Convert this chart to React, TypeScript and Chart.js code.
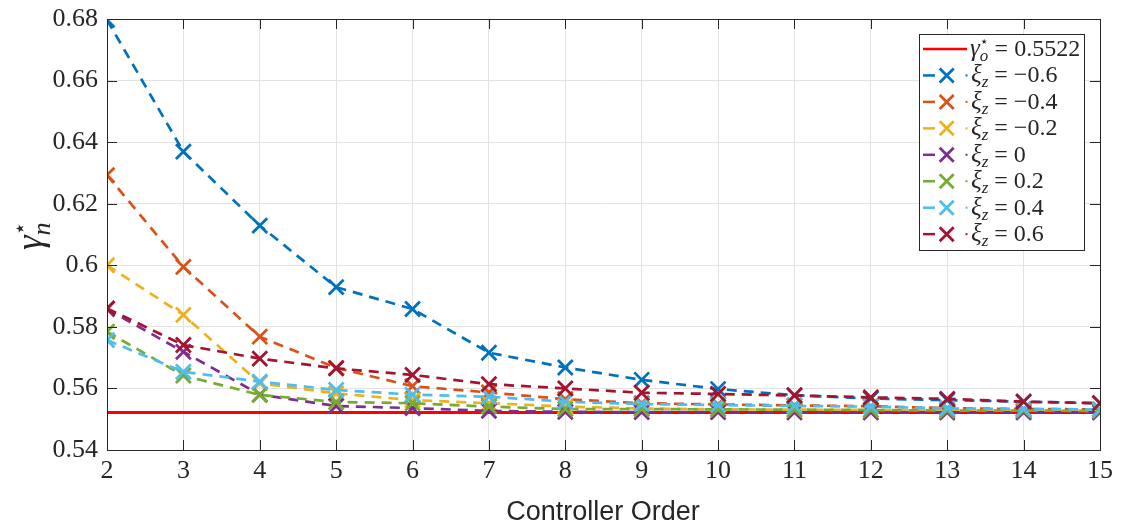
import { useEffect, useRef } from 'react';
import { Chart, registerables } from 'chart.js';

Chart.register(...registerables);

// Controller orders on the x axis
const orders = [2, 3, 4, 5, 6, 7, 8, 9, 10, 11, 12, 13, 14, 15];

// Optimal full-order value (reference line)
const gammaOptimal = 0.5522;

// gamma_n* for each zero location xi_z
const xiNeg06 = [0.6797, 0.6369, 0.6129, 0.5929, 0.5858, 0.5716, 0.5668, 0.5628, 0.5598, 0.5578, 0.5567, 0.5562, 0.5557, 0.5552];
const xiNeg04 = [0.6293, 0.5995, 0.5768, 0.5667, 0.5607, 0.5587, 0.5565, 0.5552, 0.5548, 0.5545, 0.5542, 0.5536, 0.5533, 0.5532];
const xiNeg02 = [0.6000, 0.5839, 0.5617, 0.5584, 0.5562, 0.5552, 0.5541, 0.5535, 0.5532, 0.5531, 0.5530, 0.5529, 0.5528, 0.5527];
const xiZero = [0.5858, 0.5719, 0.5580, 0.5543, 0.5536, 0.5527, 0.5524, 0.5523, 0.5523, 0.5522, 0.5522, 0.5522, 0.5522, 0.5522];
const xiPos02 = [0.5784, 0.5642, 0.5579, 0.5556, 0.5552, 0.5541, 0.5533, 0.5533, 0.5532, 0.5531, 0.5530, 0.5528, 0.5528, 0.5527];
const xiPos04 = [0.5757, 0.5654, 0.5622, 0.5595, 0.5580, 0.5573, 0.5557, 0.5549, 0.5546, 0.5543, 0.5541, 0.5535, 0.5533, 0.5532];
const xiPos06 = [0.5860, 0.5741, 0.5697, 0.5665, 0.5644, 0.5614, 0.5600, 0.5586, 0.5582, 0.5577, 0.5571, 0.5566, 0.5557, 0.5552];

const seriesValues = [xiNeg06, xiNeg04, xiNeg02, xiZero, xiPos02, xiPos04, xiPos06];
const seriesLabels = ['−0.6', '−0.4', '−0.2', '0', '0.2', '0.4', '0.6'];
const seriesColors = ['#0072BD', '#D95319', '#EDB120', '#7E2F8E', '#77AC30', '#4DBEEE', '#A2142F'];

const yTicks = [0.54, 0.56, 0.58, 0.6, 0.62, 0.64, 0.66, 0.68];

const AXIS_COLOR = '#262626';
const SERIF = '"Liberation Serif", "DejaVu Serif", serif';
const STAR_FONT = '"DejaVu Sans", sans-serif';

type Piece = { t: string; font: string; dy?: number; overlap?: boolean };

// Draws a run of text pieces (used for math-style labels with sub/superscripts)
function drawPieces(ctx: CanvasRenderingContext2D, x: number, y: number, pieces: Piece[]) {
  let cx = x;
  let lastStart = x;
  let lastWidth = 0;
  for (const p of pieces) {
    ctx.font = p.font;
    const w = ctx.measureText(p.t).width;
    if (p.overlap) {
      ctx.fillText(p.t, lastStart, y + (p.dy || 0));
      lastWidth = Math.max(lastWidth, w);
      cx = lastStart + lastWidth;
    } else {
      ctx.fillText(p.t, cx, y + (p.dy || 0));
      lastStart = cx;
      lastWidth = w;
      cx += w;
    }
  }
}

function drawCross(ctx: CanvasRenderingContext2D, x: number, y: number, h: number, color: string) {
  ctx.save();
  ctx.strokeStyle = color;
  ctx.lineWidth = 2.8;
  ctx.beginPath();
  ctx.moveTo(x - h, y - h);
  ctx.lineTo(x + h, y + h);
  ctx.moveTo(x - h, y + h);
  ctx.lineTo(x + h, y - h);
  ctx.stroke();
  ctx.restore();
}

const framePlugin = {
  id: 'frame',
  afterDraw(chart: any) {
    const { ctx, chartArea } = chart;
    const { left, right, top, bottom } = chartArea;
    const xs = chart.scales.x;
    const ys = chart.scales.y;
    ctx.save();

    // Box and inward tick marks on all four sides
    ctx.strokeStyle = AXIS_COLOR;
    ctx.lineWidth = 1;
    ctx.strokeRect(Math.round(left) + 0.5, Math.round(top) + 0.5, Math.round(right - left), Math.round(bottom - top));
    const tl = 10;
    ctx.beginPath();
    for (const o of orders) {
      const px = Math.round(xs.getPixelForValue(o)) + 0.5;
      ctx.moveTo(px, bottom);
      ctx.lineTo(px, bottom - tl);
      ctx.moveTo(px, top);
      ctx.lineTo(px, top + tl);
    }
    for (const v of yTicks) {
      const py = Math.round(ys.getPixelForValue(v)) + 0.5;
      ctx.moveTo(left, py);
      ctx.lineTo(left + tl, py);
      ctx.moveTo(right, py);
      ctx.lineTo(right - tl, py);
    }
    ctx.stroke();

    // x-axis title
    ctx.fillStyle = AXIS_COLOR;
    ctx.font = '27px "Liberation Sans", Arial, sans-serif';
    ctx.textAlign = 'center';
    ctx.textBaseline = 'alphabetic';
    ctx.fillText('Controller Order', 603, 520);

    // y-axis title: gamma_n^*
    ctx.save();
    ctx.translate(42, 250);
    ctx.rotate(-Math.PI / 2);
    ctx.textAlign = 'left';
    drawPieces(ctx, 0, 0, [
      { t: 'γ', font: `italic 37px ${SERIF}` },
      { t: '⋆', font: `22px ${STAR_FONT}`, dy: -15 },
      { t: 'n', font: `italic 26px ${SERIF}`, dy: 8, overlap: true },
    ]);
    ctx.restore();

    // Legend
    const lx = 919.5;
    const ly = 34.5;
    const lw = 165;
    const lh = 216;
    ctx.fillStyle = '#ffffff';
    ctx.fillRect(lx, ly, lw, lh);
    ctx.strokeStyle = AXIS_COLOR;
    ctx.lineWidth = 1;
    ctx.strokeRect(lx, ly, lw, lh);

    const rowY = (i: number) => 49 + i * 26.45;
    ctx.textAlign = 'left';
    ctx.textBaseline = 'alphabetic';

    // reference line entry
    ctx.strokeStyle = '#FF0000';
    ctx.lineWidth = 2.5;
    ctx.beginPath();
    ctx.moveTo(923, rowY(0));
    ctx.lineTo(967, rowY(0));
    ctx.stroke();
    ctx.fillStyle = AXIS_COLOR;
    drawPieces(ctx, 970, rowY(0) + 7, [
      { t: 'γ', font: `italic 25px ${SERIF}` },
      { t: '⋆', font: `14px ${STAR_FONT}`, dy: -10 },
      { t: 'o', font: `italic 17px ${SERIF}`, dy: 5, overlap: true },
      { t: ' = 0.5522', font: `24px ${SERIF}` },
    ]);

    seriesLabels.forEach((lab, i) => {
      const y = rowY(i + 1);
      const c = seriesColors[i];
      ctx.strokeStyle = c;
      ctx.lineWidth = 2.5;
      ctx.beginPath();
      ctx.moveTo(923, y);
      ctx.lineTo(935, y);
      ctx.stroke();
      drawCross(ctx, 946.7, y, 7, c);
      ctx.fillStyle = c;
      ctx.fillRect(965.5, y - 1, 2, 2);
      ctx.fillStyle = AXIS_COLOR;
      drawPieces(ctx, 971, y + 7, [
        { t: 'ξ', font: `italic 25px ${SERIF}` },
        { t: 'z', font: `italic 17px ${SERIF}`, dy: 5 },
        { t: ' = ' + lab, font: `24px ${SERIF}` },
      ]);
    });

    ctx.restore();
  },
};

export default function App() {
  const canvasRef = useRef<HTMLCanvasElement | null>(null);

  useEffect(() => {
    const canvas = canvasRef.current;
    if (!canvas) return;

    const datasets: any[] = seriesValues.map((vals, i) => ({
      label: 'ξz = ' + seriesLabels[i],
      data: orders.map((o, k) => ({ x: o, y: vals[k] })),
      borderColor: seriesColors[i],
      backgroundColor: seriesColors[i],
      borderWidth: 2.7,
      borderDash: [10, 7],
      pointStyle: 'crossRot',
      pointRadius: 10.5,
      pointBorderWidth: 2.8,
      pointBorderColor: seriesColors[i],
      fill: false,
      tension: 0,
      order: seriesValues.length - i,
    }));

    datasets.push({
      label: 'γo* = 0.5522',
      data: [
        { x: orders[0], y: gammaOptimal },
        { x: orders[orders.length - 1], y: gammaOptimal },
      ],
      borderColor: '#FF0000',
      borderWidth: 3,
      pointRadius: 0,
      fill: false,
      order: 100,
    });

    const chart = new Chart(canvas, {
      type: 'line',
      data: { datasets },
      options: {
        animation: false,
        responsive: false,
        maintainAspectRatio: false,
        layout: { padding: { top: 19, right: 22, left: 0, bottom: 0 } },
        plugins: {
          legend: { display: false },
          tooltip: { enabled: false },
        },
        scales: {
          x: {
            type: 'linear',
            min: 2,
            max: 15,
            afterFit: (s: any) => {
              s.height = 79;
            },
            afterBuildTicks: (s: any) => {
              s.ticks = orders.map((v) => ({ value: v }));
            },
            ticks: {
              color: AXIS_COLOR,
              font: { family: SERIF, size: 26 },
              padding: 6,
              maxRotation: 0,
              autoSkip: false,
            },
            grid: { color: '#e3e3e3', lineWidth: 1, drawTicks: false },
            border: { display: false },
          },
          y: {
            type: 'linear',
            min: 0.54,
            max: 0.68,
            afterFit: (s: any) => {
              s.width = 107;
            },
            afterBuildTicks: (s: any) => {
              s.ticks = yTicks.map((v) => ({ value: v }));
            },
            ticks: {
              color: AXIS_COLOR,
              font: { family: SERIF, size: 26, lineHeight: 0.4 },
              padding: 9,
              callback: (v: any) => String(Number(Number(v).toFixed(2))),
            },
            grid: { color: '#e3e3e3', lineWidth: 1, drawTicks: false },
            border: { display: false },
          },
        },
      },
      plugins: [framePlugin],
    });

    return () => chart.destroy();
  }, []);

  return (
    <div style={{ position: 'fixed', left: 0, top: 0, width: 1122, height: 529, background: '#fff' }}>
      <canvas ref={canvasRef} width={1122} height={529} style={{ display: 'block' }} />
    </div>
  );
}
